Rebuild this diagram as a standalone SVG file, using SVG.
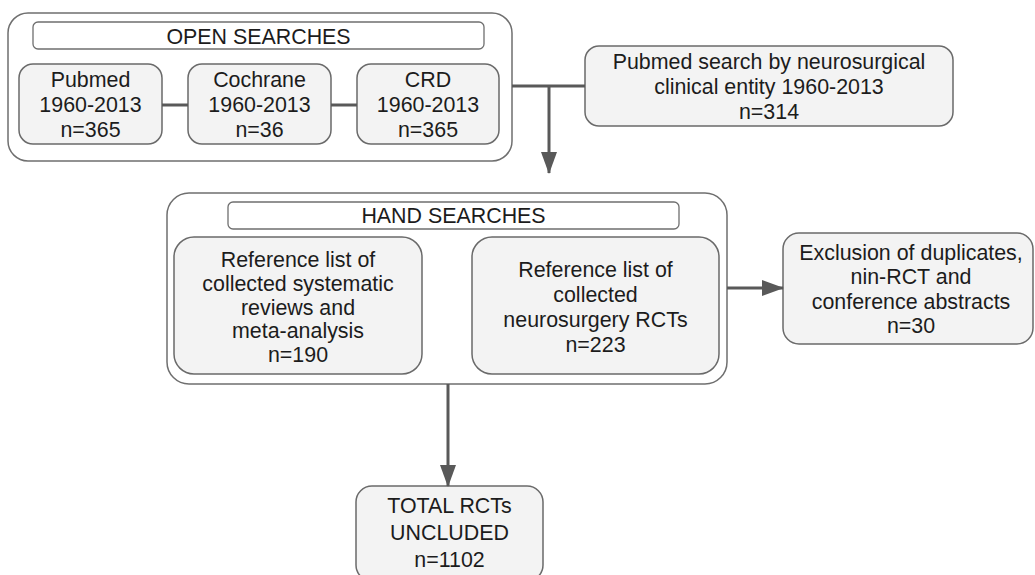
<svg xmlns="http://www.w3.org/2000/svg" width="1035" height="575" viewBox="0 0 1035 575">
<style>
.outer{fill:#ffffff;stroke:#6f6f6f;stroke-width:1.5}
.hdr{fill:#ffffff;stroke:#6f6f6f;stroke-width:1.3}
.box{fill:#f3f3f3;stroke:#6a6a6a;stroke-width:1.5}
.t{font-family:"Liberation Sans",Arial,sans-serif;font-size:21.4px;fill:#1c1c1c;text-anchor:middle}
.c{fill:none;stroke:#595959;stroke-width:3}
</style>
<defs>
<marker id="ah" markerUnits="userSpaceOnUse" markerWidth="22" markerHeight="16" refX="21" refY="8" orient="auto">
<path d="M0,0 L22,8 L0,16 z" fill="#595959"/>
</marker>
</defs>
<rect width="1035" height="575" fill="#ffffff"/>
<g id="open-searches">
<rect class="outer" x="8" y="13" width="504" height="148" rx="20"/>
<rect class="hdr" x="33" y="22" width="451" height="27" rx="5"/>
<text class="t" x="258.5" y="44">OPEN SEARCHES</text>
</g>
<g id="pubmed">
<rect class="box" x="19" y="64" width="143" height="80" rx="14"/>
<text class="t" x="90.5" y="87">Pubmed</text>
<text class="t" x="90.5" y="112">1960-2013</text>
<text class="t" x="90.5" y="137">n=365</text>
</g>
<g id="cochrane">
<rect class="box" x="188" y="64" width="143" height="80" rx="14"/>
<text class="t" x="259.5" y="87">Cochrane</text>
<text class="t" x="259.5" y="112">1960-2013</text>
<text class="t" x="259.5" y="137">n=36</text>
</g>
<g id="crd">
<rect class="box" x="357" y="64" width="142" height="80" rx="14"/>
<text class="t" x="428" y="87">CRD</text>
<text class="t" x="428" y="112">1960-2013</text>
<text class="t" x="428" y="137">n=365</text>
</g>
<g id="pubmed-neuro">
<rect class="box" x="585" y="46" width="368" height="80" rx="14"/>
<text class="t" x="769" y="69">Pubmed search by neurosurgical</text>
<text class="t" x="769" y="94">clinical entity 1960-2013</text>
<text class="t" x="769" y="119">n=314</text>
</g>
<g id="hand-searches">
<rect class="outer" x="167" y="193" width="560" height="191" rx="22"/>
<rect class="hdr" x="228" y="202" width="451" height="27" rx="5"/>
<text class="t" x="453.5" y="223">HAND SEARCHES</text>
</g>
<g id="ref-reviews">
<rect class="box" x="174" y="237" width="248" height="137" rx="20"/>
<text class="t" x="298" y="267">Reference list of</text>
<text class="t" x="298" y="291">collected systematic</text>
<text class="t" x="298" y="315">reviews and</text>
<text class="t" x="298" y="338">meta-analysis</text>
<text class="t" x="298" y="362">n=190</text>
</g>
<g id="ref-rcts">
<rect class="box" x="472" y="237" width="247" height="137" rx="20"/>
<text class="t" x="595.5" y="277">Reference list of</text>
<text class="t" x="595.5" y="302">collected</text>
<text class="t" x="595.5" y="327">neurosurgery RCTs</text>
<text class="t" x="595.5" y="352">n=223</text>
</g>
<g id="exclusion">
<rect class="box" x="783" y="233" width="250" height="111" rx="16"/>
<text class="t" x="911" y="260">Exclusion of duplicates,</text>
<text class="t" x="911" y="284">nin-RCT and</text>
<text class="t" x="911" y="309">conference abstracts</text>
<text class="t" x="911" y="333">n=30</text>
</g>
<g id="total">
<rect class="box" x="356" y="486" width="187" height="95" rx="16"/>
<text class="t" x="449.5" y="513">TOTAL RCTs</text>
<text class="t" x="449.5" y="540">UNCLUDED</text>
<text class="t" x="449.5" y="567">n=1102</text>
</g>
<g id="connectors">
<line class="c" x1="162" y1="105" x2="188" y2="105"/>
<line class="c" x1="331" y1="105" x2="357" y2="105"/>
<line class="c" x1="512" y1="86" x2="585" y2="86"/>
<line class="c" x1="549" y1="86" x2="549" y2="173" marker-end="url(#ah)"/>
<line class="c" x1="727" y1="288" x2="783" y2="288" marker-end="url(#ah)"/>
<line class="c" x1="448" y1="384" x2="448" y2="486" marker-end="url(#ah)"/>
</g>
</svg>
